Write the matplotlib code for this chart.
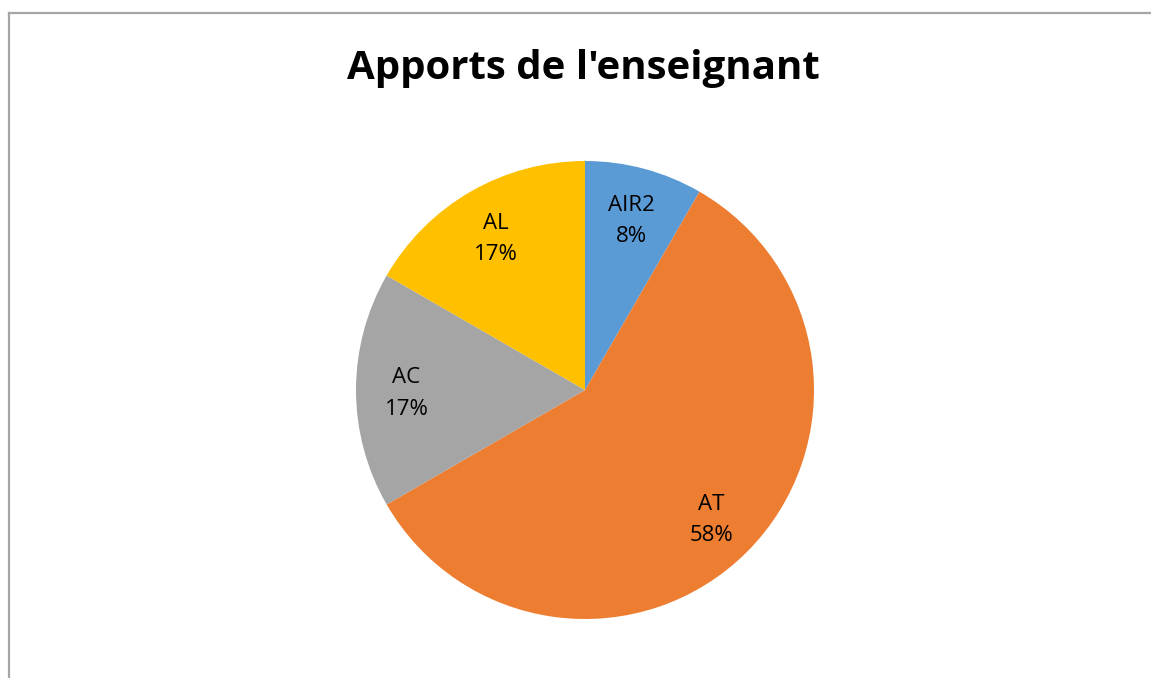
import matplotlib
matplotlib.use("Agg")
import matplotlib.pyplot as plt
from matplotlib.lines import Line2D
import numpy as np

# Data
categories = ["AIR2", "AT", "AC", "AL"]
values = [1, 7, 2, 2]
colors = ["#5B9BD5", "#ED7D31", "#A5A5A5", "#FFC000"]
title = "Apports de l'enseignant"

W, H = 1151, 678
fig = plt.figure(figsize=(W / 100, H / 100), dpi=100)
fig.patch.set_facecolor("white")

# Chart frame (left and top edges visible)
frame_kw = dict(color="#A6A6A6", linewidth=1.6, transform=fig.transFigure)
fig.add_artist(Line2D([9 / W, 9 / W], [0, 1 - 12.5 / H], **frame_kw))
fig.add_artist(Line2D([9 / W, 1], [1 - 12.5 / H, 1 - 12.5 / H], **frame_kw))

# Pie axes
cx, cy, r = 585, 390, 229
ax = fig.add_axes([(cx - r) / W, (H - cy - r) / H, 2 * r / W, 2 * r / H])
wedges, _ = ax.pie(values, colors=colors, startangle=90, counterclock=False,
                   radius=1, wedgeprops=dict(linewidth=0))
ax.set_xlim(-1, 1)
ax.set_ylim(-1, 1)
ax.set_aspect("equal")
ax.axis("off")

total = sum(values)
for w, cat, v in zip(wedges, categories, values):
    ang = np.deg2rad((w.theta1 + w.theta2) / 2)
    d = 0.78
    ax.text(d * np.cos(ang), d * np.sin(ang) - 0.015, f"{cat}\n{round(100 * v / total)}%",
            ha="center", va="center", fontsize=16, family="Open Sans",
            color="#000000", linespacing=1.65)

fig.text(583 / W, 1 - 68 / H, title, ha="center", va="center",
         fontsize=29, fontweight="bold", family="Open Sans", color="#000000")

fig.savefig("out.png", dpi=100)
